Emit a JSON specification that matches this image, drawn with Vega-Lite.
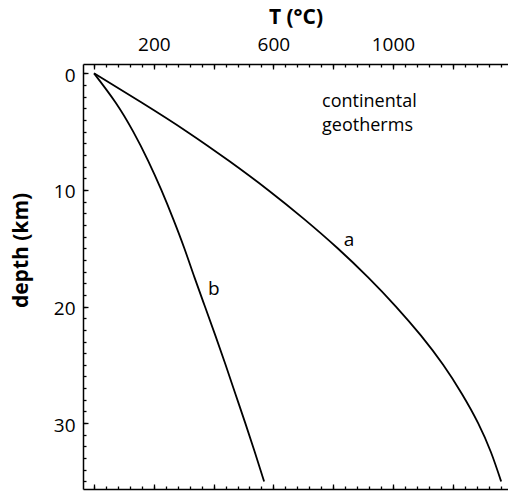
{
  "$schema": "https://vega.github.io/schema/vega-lite/v6.json",
  "width": 425,
  "height": 425,
  "autosize": {"type": "none"},
  "padding": {"left": 83, "top": 64, "right": 0, "bottom": 4},
  "config": {
    "view": {"stroke": null},
    "font": "Open Sans",
    "axis": {
      "grid": false,
      "domainColor": "black",
      "tickColor": "black",
      "labelColor": "black",
      "titleColor": "black",
      "domainWidth": 1.5,
      "tickWidth": 1.3,
      "labelFont": "Open Sans",
      "titleFont": "Open Sans",
      "labelFontSize": 19,
      "titleFontSize": 21,
      "titleFontWeight": "bold",
      "labelFlush": false
    }
  },
  "datasets": {
    "geotherm_a": [
      {"T": 0, "depth": 0},
      {"T": 159, "depth": 2.5},
      {"T": 311, "depth": 5},
      {"T": 451, "depth": 7.5},
      {"T": 582, "depth": 10},
      {"T": 703, "depth": 12.5},
      {"T": 815, "depth": 15},
      {"T": 917, "depth": 17.5},
      {"T": 1010, "depth": 20},
      {"T": 1094, "depth": 22.5},
      {"T": 1168, "depth": 25},
      {"T": 1231, "depth": 27.5},
      {"T": 1285, "depth": 30},
      {"T": 1328, "depth": 32.5},
      {"T": 1362, "depth": 35}
    ],
    "geotherm_b": [
      {"T": 0, "depth": 0},
      {"T": 72, "depth": 2.5},
      {"T": 131, "depth": 5},
      {"T": 181, "depth": 7.5},
      {"T": 225, "depth": 10},
      {"T": 265, "depth": 12.5},
      {"T": 302, "depth": 15},
      {"T": 336, "depth": 17.5},
      {"T": 371, "depth": 20},
      {"T": 406, "depth": 22.5},
      {"T": 440, "depth": 25},
      {"T": 473, "depth": 27.5},
      {"T": 506, "depth": 30},
      {"T": 538, "depth": 32.5},
      {"T": 569, "depth": 35}
    ],
    "curve_labels": [
      {"text": "a", "T": 853, "depth": 14.78},
      {"text": "b", "T": 401, "depth": 19.03}
    ],
    "notes": [
      {"text": "continental", "T": 763, "depth": 2.91},
      {"text": "geotherms", "T": 763, "depth": 4.91}
    ]
  },
  "resolve": {"axis": {"x": "independent", "y": "independent"}},
  "layer": [
    {
      "data": {"name": "geotherm_a"},
      "mark": {"type": "line", "color": "black", "strokeWidth": 1.8, "interpolate": "natural"},
      "encoding": {
        "x": {
          "field": "T", "type": "quantitative",
          "scale": {"domain": [-37, 1385], "nice": false, "zero": false},
          "axis": {
            "orient": "top",
            "values": [0, 200, 400, 600, 800, 1000, 1200],
            "tickSize": -5,
            "labelPadding": 15,
            "format": "d",
            "labelExpr": "datum.value == 200 || datum.value == 600 || datum.value == 1000 ? datum.label : ''",
            "title": "T (°C)",
            "titlePadding": 8
          }
        },
        "y": {
          "field": "depth", "type": "quantitative",
          "scale": {"domain": [-0.8, 35.65], "nice": false, "zero": false, "reverse": true},
          "axis": {
            "orient": "left",
            "values": [0, 10, 20, 30],
            "tickSize": -5,
            "labelPadding": 13,
            "labelOffset": 2,
            "title": "depth (km)",
            "titlePadding": 22,
            "titleY": 186
          }
        }
      }
    },
    {
      "data": {"name": "geotherm_b"},
      "mark": {"type": "line", "color": "black", "strokeWidth": 1.8, "interpolate": "natural"},
      "encoding": {
        "x": {
          "field": "T", "type": "quantitative",
          "scale": {"domain": [-37, 1385], "nice": false, "zero": false},
          "axis": {
            "orient": "top",
            "values": [0, 40, 80, 120, 160, 200, 240, 280, 320, 360, 400, 440, 480, 520, 560, 600, 640, 680, 720, 760, 800, 840, 880, 920, 960, 1000, 1040, 1080, 1120, 1160, 1200, 1240, 1280, 1320, 1360],
            "tickSize": -3,
            "labels": false,
            "domain": false,
            "title": null
          }
        },
        "y": {
          "field": "depth", "type": "quantitative",
          "scale": {"domain": [-0.8, 35.65], "nice": false, "zero": false, "reverse": true},
          "axis": {
            "orient": "left",
            "values": [0, 1, 2, 3, 4, 5, 6, 7, 8, 9, 10, 11, 12, 13, 14, 15, 16, 17, 18, 19, 20, 21, 22, 23, 24, 25, 26, 27, 28, 29, 30, 31, 32, 33, 34, 35],
            "tickSize": -3,
            "labels": false,
            "domain": false,
            "title": null
          }
        }
      }
    },
    {
      "data": {"name": "curve_labels"},
      "mark": {"type": "text", "color": "black", "fontSize": 19, "font": "Open Sans", "align": "center", "baseline": "alphabetic"},
      "encoding": {
        "x": {
          "field": "T", "type": "quantitative",
          "scale": {"domain": [-37, 1385], "nice": false, "zero": false},
          "axis": {
            "orient": "bottom",
            "values": [0, 200, 400, 600, 800, 1000, 1200],
            "tickSize": -5,
            "labels": false,
            "title": null
          }
        },
        "y": {
          "field": "depth", "type": "quantitative",
          "scale": {"domain": [-0.8, 35.65], "nice": false, "zero": false, "reverse": true},
          "axis": null
        },
        "text": {"field": "text"}
      }
    },
    {
      "data": {"name": "notes"},
      "mark": {"type": "text", "color": "black", "fontSize": 18, "font": "Open Sans", "align": "left", "baseline": "alphabetic"},
      "encoding": {
        "x": {
          "field": "T", "type": "quantitative",
          "scale": {"domain": [-37, 1385], "nice": false, "zero": false},
          "axis": {
            "orient": "bottom",
            "values": [0, 40, 80, 120, 160, 200, 240, 280, 320, 360, 400, 440, 480, 520, 560, 600, 640, 680, 720, 760, 800, 840, 880, 920, 960, 1000, 1040, 1080, 1120, 1160, 1200, 1240, 1280, 1320, 1360],
            "tickSize": -3,
            "labels": false,
            "domain": false,
            "title": null
          }
        },
        "y": {
          "field": "depth", "type": "quantitative",
          "scale": {"domain": [-0.8, 35.65], "nice": false, "zero": false, "reverse": true},
          "axis": null
        },
        "text": {"field": "text"}
      }
    }
  ]
}
